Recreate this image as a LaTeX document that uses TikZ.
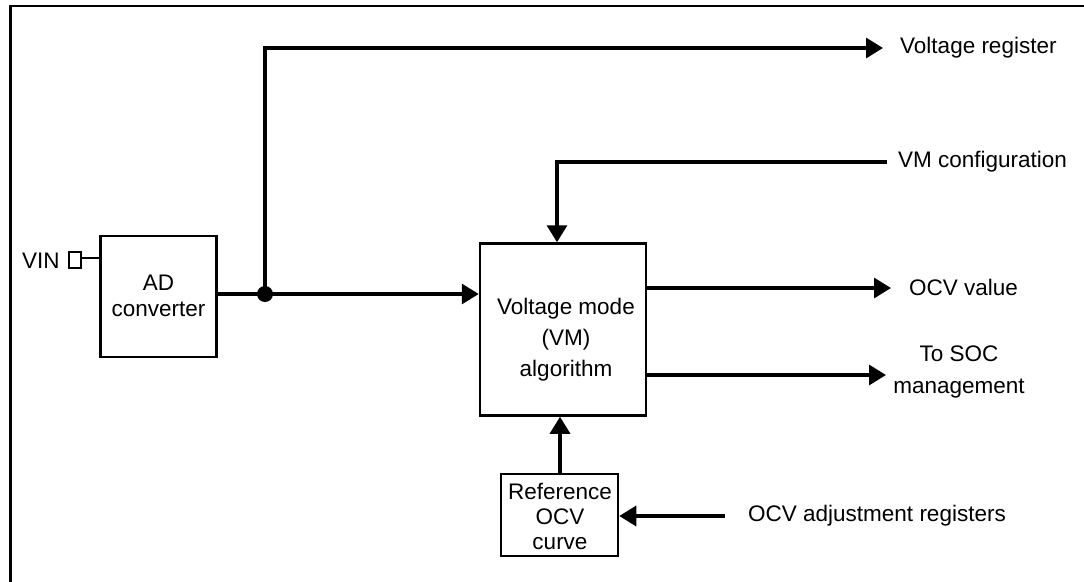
\documentclass[tikz,border=0pt]{standalone}
\usepackage{fontspec}
\setmainfont{Liberation Sans}
\usetikzlibrary{arrows.meta}
\begin{document}
\begin{tikzpicture}[x=1pt,y=-1pt,
  font=\fontsize{22.5}{27}\selectfont,
  wire/.style={line width=3.2pt},
  arr/.style={wire,-{Triangle[length=17pt,width=20pt]}},
  lbl/.style={anchor=west,inner sep=0pt,align=left}]
\useasboundingbox (0,0) rectangle (1084,581);
\begin{scope}
\clip (0,0) rectangle (1084,581);
\draw[line width=2.8pt] (10.5,6) rectangle (1100,600);
\end{scope}
% blocks
\node[draw,line width=2.5pt,minimum width=116pt,minimum height=121pt,inner sep=0pt] (ad) at (158.5,296.5) {};
\node[align=center,font=\fontsize{22.5}{26}\selectfont] (adt) at (158.5,296) {AD\\converter};
\node[draw,line width=2.5pt,minimum width=166pt,minimum height=172pt,inner sep=0pt] (vm) at (563,329.5) {};
\node[align=center,font=\fontsize{22.5}{31}\selectfont] (vmt) at (566,340) {Voltage mode\\(VM)\\algorithm};
\node[draw,line width=2.5pt,minimum width=117pt,minimum height=82pt,inner sep=0pt] (ref) at (559.5,515) {};
\node[align=center,font=\fontsize{22.5}{25}\selectfont] (reft) at (560,516) {Reference\\OCV\\curve};
% VIN pin
\node[draw,line width=2pt,minimum width=12pt,minimum height=16pt,inner sep=0pt] (pin) at (74.5,260) {};
\node[lbl] (vin) at (22,261) {VIN};
\draw[line width=2.5pt] (pin.east |- 0,258) -- (ad.west |- 0,258);
% junction
\coordinate (j) at (265,294);
\fill (j) circle (8pt);
\draw[wire] (ad.east |- j) -- (j);
\draw[arr] (j) -- (vm.west |- j);
\coordinate (vrtip) at (883,48);
\draw[arr] (j) |- (vrtip);
\node[lbl] (vr) at (900,48) {Voltage register};
% VM configuration
\coordinate (vmc) at (887,162);
\node[lbl] (vmcl) at (898,162) {VM configuration};
\draw[arr] (vmc) -| (vm.north -| 557,0);
% outputs
\coordinate (ocvt) at (891,288);
\draw[arr] (vm.east |- ocvt) -- (ocvt);
\node[lbl] (ocv) at (909,287) {OCV value};
\coordinate (soct) at (886,375);
\draw[arr] (vm.east |- soct) -- (soct);
\node[align=center,font=\fontsize{22.5}{32}\selectfont] (soc) at (959,372) {To SOC\\management};
% reference
\draw[arr] (ref.north -| 560,0) -- (vm.south -| 560,0);
\coordinate (adj) at (725,516);
\draw[arr] (adj) -- (ref.east |- adj);
\node[lbl] (adjl) at (748,516) {OCV adjustment registers};
\end{tikzpicture}
\end{document}
